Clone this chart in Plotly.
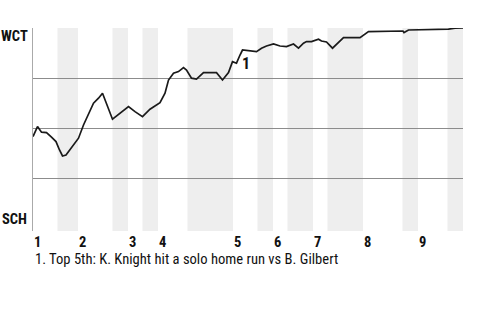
import plotly.graph_objects as go

# Win probability for WCT (percent) by plate-appearance index
event_idx = [0, 0.9, 1.7, 2.7, 3.7, 4.6, 5.3, 5.9, 6.6, 7.4, 8.3, 9.1, 10.1, 11.1, 12.1,
             13.1, 13.9, 15.9, 17.4, 19.1, 20.4, 21.9, 23.4, 24.4, 25.4, 26.4, 27.1,
             28.1, 29.1, 30.1, 30.7, 31.7, 32.7, 34.1, 36.7, 37.9, 39.1, 39.9, 40.7,
             41.4, 41.9, 44.7, 45.7, 46.7, 48.1, 49.4, 50.7, 52.1, 53.1, 54.1, 54.7,
             55.7, 57.1, 57.7, 58.7, 59.9, 61.1, 62.1, 65.4, 67.1, 74.0, 74.2, 75.1,
             83.1, 84.4, 86.0]
wct_wp = [45.7, 50.7, 47.9, 47.7, 45.4, 43.2, 39.0, 36.0, 36.5, 39.0, 42.4, 44.9, 51.5,
          57.4, 62.4, 64.9, 67.4, 54.4, 57.4, 60.7, 58.2, 55.7, 59.4, 61.0, 62.7, 67.4,
          74.0, 77.4, 78.2, 80.2, 79.0, 74.9, 74.4, 77.7, 77.7, 74.0, 77.7, 83.2, 82.4,
          86.5, 89.0, 88.2, 89.9, 91.0, 92.0, 91.0, 90.7, 92.0, 89.9, 92.4, 93.2, 93.2,
          94.4, 93.5, 93.0, 89.9, 92.7, 95.2, 95.2, 98.2, 98.5, 97.7, 99.0, 99.4, 99.9,
          100.0]

inning_labels = ["1", "2", "3", "4", "5", "6", "7", "8", "9"]
inning_start = [0, 9, 19, 25, 40, 48, 56, 66, 77]
bottom_start = [4.9, 15.9, 21.9, 30.9, 44.9, 50.9, 58.9, 73.9, 82.9]
game_end = 86

team_top = "WCT"
team_bottom = "SCH"
event_marker = "1"
event_x = 42.5
event_y = 82.5
footnote = "1. Top 5th: K. Knight hit a solo home run vs B. Gilbert"

FONT = "Liberation Sans Narrow, Roboto Condensed, DejaVu Sans Condensed, Arial Narrow, sans-serif"

fig = go.Figure()

shapes = []
for i, bs in enumerate(bottom_start):
    end = inning_start[i + 1] if i + 1 < len(inning_start) else game_end
    shapes.append(dict(type="rect", xref="x", yref="paper", x0=bs, x1=end, y0=0, y1=1,
                       fillcolor="#eeeeee", line_width=0, layer="below"))

fig.add_trace(go.Scatter(x=event_idx, y=wct_wp, mode="lines",
                         line=dict(color="#1a1a1a", width=1.7), hoverinfo="skip"))

annotations = []
for lab, xs in zip(inning_labels, inning_start):
    annotations.append(dict(x=xs, y=0, xref="x", yref="paper", text="<b>" + lab + "</b>",
                            showarrow=False, xanchor="left", yanchor="top", yshift=-1, xshift=-1,
                            font=dict(family=FONT, size=14.5, color="#111")))
annotations.append(dict(x=0, y=1, xref="paper", yref="paper", text="<b>" + team_top + "</b>",
                        showarrow=False, xanchor="right", yanchor="top", xshift=-3, yshift=2,
                        font=dict(family=FONT, size=14.5, color="#111")))
annotations.append(dict(x=0, y=0, xref="paper", yref="paper", text="<b>" + team_bottom + "</b>",
                        showarrow=False, xanchor="right", yanchor="bottom", xshift=-4, yshift=1,
                        font=dict(family=FONT, size=14.5, color="#111")))
annotations.append(dict(x=event_x, y=event_y, xref="x", yref="y", text="<b>" + event_marker + "</b>",
                        showarrow=False, font=dict(family=FONT, size=16, color="#111")))
annotations.append(dict(x=0, y=0, xref="paper", yref="paper", text=footnote, showarrow=False,
                        xanchor="left", yanchor="top", yshift=-17,
                        font=dict(family=FONT, size=14.6, color="#111")))

fig.update_layout(
    width=480, height=320,
    margin=dict(l=33, r=17, t=28, b=89),
    paper_bgcolor="white", plot_bgcolor="white",
    showlegend=False,
    shapes=shapes,
    annotations=annotations,
    xaxis=dict(range=[0, game_end], showgrid=False, zeroline=False, showticklabels=False,
               showline=False, fixedrange=True),
    yaxis=dict(range=[-1.5, 100], tickvals=[25, 50, 75, 100], showticklabels=False,
               showgrid=True, gridcolor="#8c8c8c", gridwidth=1, zeroline=False,
               showline=True, linecolor="#aaaaaa", linewidth=1, fixedrange=True),
)

fig.write_html("out.html")
